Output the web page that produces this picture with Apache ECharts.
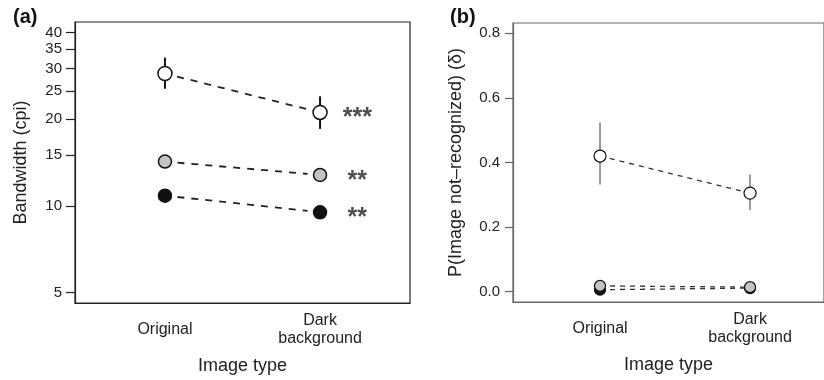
<!DOCTYPE html>
<html>
<head>
<meta charset="utf-8">
<script src="https://cdn.jsdelivr.net/npm/echarts@6/dist/echarts.min.js"></script>
<style>
  html, body { margin: 0; padding: 0; background: #fff; }
  #chart { width: 824px; height: 380px; }
</style>
</head>
<body>
<div id="chart"></div>
<script>
// categories on the x axis (drawn at x = 1 and x = 2)
const categories = ['Original', 'Dark\nbackground'];

// (a) bandwidth in cpi, log scale
const bwWhite = [28.8, 21.1];
const bwWhiteLo = [25.5, 18.5];
const bwWhiteHi = [32.7, 24.0];
const bwGray = [14.25, 12.8];
const bwBlack = [10.85, 9.5];
const bwTicks = [5, 10, 15, 20, 25, 30, 35, 40];
const bwSig = ['***', '**', '**'];

// (b) P(image not-recognized)
const pWhite = [0.42, 0.305];
const pWhiteLo = [0.332, 0.253];
const pWhiteHi = [0.523, 0.363];
const pGray = [0.018, 0.014];
const pBlack = [0.006, 0.011];
const pTicks = [0, 0.2, 0.4, 0.6, 0.8];

const FONT = '"Liberation Sans", Arial, sans-serif';
const lg = (v) => Math.log10(v);

// R-style limits: xlim c(0.5, 2.5) + 4%; panel (b) is cut at the right edge
const X_MIN = 0.42, X_MAX = 2.58, X_MAX_B = 2.493;
const STAR_X = 2.24;

function xAxisOf(gridIndex, color, max) {
  return {
    type: 'value', gridIndex, min: X_MIN, max,
    name: 'Image type', nameLocation: 'middle', nameGap: 63,
    nameTextStyle: { fontFamily: FONT, fontSize: 18, color: '#222', verticalAlign: 'middle' },
    axisLine: { show: true, onZero: false, lineStyle: { color, width: 1.2 } },
    axisTick: { show: false },
    splitLine: { show: false },
    axisLabel: {
      customValues: [1, 2],
      formatter: (v) => categories[Math.round(v) - 1],
      fontFamily: FONT, fontSize: 16, lineHeight: 18, color: '#222',
      verticalAlign: 'middle', margin: 27
    }
  };
}

// dashed connecting line, shortened at both ends like R type="b"
function segSeries(xi, yi, data, gap, style) {
  return {
    type: 'custom', xAxisIndex: xi, yAxisIndex: yi, z: 1, silent: true,
    data,
    renderItem(params, api) {
      const p1 = api.coord([api.value(0), api.value(1)]);
      const p2 = api.coord([api.value(2), api.value(3)]);
      const dx = p2[0] - p1[0], dy = p2[1] - p1[1];
      const len = Math.hypot(dx, dy);
      const ux = dx / len, uy = dy / len;
      return {
        type: 'line',
        shape: { x1: p1[0] + ux * gap, y1: p1[1] + uy * gap, x2: p2[0] - ux * gap, y2: p2[1] - uy * gap },
        style: Object.assign({ fill: null }, style)
      };
    }
  };
}

function errSeries(xi, yi, data, color, width) {
  return {
    type: 'custom', xAxisIndex: xi, yAxisIndex: yi, z: 2, silent: true,
    data,
    renderItem(params, api) {
      const a = api.coord([api.value(0), api.value(1)]);
      const b = api.coord([api.value(0), api.value(2)]);
      return {
        type: 'line',
        shape: { x1: a[0], y1: a[1], x2: b[0], y2: b[1] },
        style: { stroke: color, lineWidth: width }
      };
    }
  };
}

function dots(xi, yi, vals, fill, size, bw) {
  return {
    type: 'scatter', xAxisIndex: xi, yAxisIndex: yi, z: 3, silent: true,
    symbol: 'circle', symbolSize: size,
    itemStyle: { color: fill, borderColor: '#111', borderWidth: bw, opacity: 1 },
    data: vals.map((v, i) => [i + 1, v])
  };
}

const dashA = { stroke: '#222', lineWidth: 1.8, lineDash: [7, 7] };
const dashB = { stroke: '#333', lineWidth: 1.3, lineDash: [5, 5] };

const chart = echarts.init(document.getElementById('chart'));
chart.setOption({
  animation: false,
  backgroundColor: '#fff',
  title: [
    { text: '(a)', left: 8, top: 2, textStyle: { fontFamily: FONT, fontSize: 20, fontWeight: 'bold', color: '#111' } },
    { text: '(b)', left: 445, top: 2, textStyle: { fontFamily: FONT, fontSize: 20, fontWeight: 'bold', color: '#111' } }
  ],
  grid: [
    { left: 75, top: 22, width: 335, height: 281, show: true, borderColor: '#222', borderWidth: 1.2, backgroundColor: 'transparent' },
    { left: 513, top: 23, right: 0, height: 279, show: true, borderColor: '#666', borderWidth: 1.2, backgroundColor: 'transparent' }
  ],
  xAxis: [xAxisOf(0, '#222', X_MAX), xAxisOf(1, '#666', X_MAX_B)],
  yAxis: [
    {
      type: 'value', gridIndex: 0,
      // log10 ylim c(5, 40) + 4%
      min: lg(5) - 0.04 * lg(8), max: lg(40) + 0.04 * lg(8),
      name: 'Bandwidth (cpi)', nameLocation: 'middle', nameGap: 54,
      nameTextStyle: { fontFamily: FONT, fontSize: 18, color: '#222', verticalAlign: 'middle' },
      axisLine: { show: true, lineStyle: { color: '#222', width: 1.2 } },
      axisTick: { show: true, length: 9, customValues: bwTicks.map(lg), lineStyle: { color: '#222', width: 1.2 } },
      splitLine: { show: false },
      axisLabel: {
        customValues: bwTicks.map(lg),
        formatter: (v) => String(Math.round(Math.pow(10, v))),
        fontFamily: FONT, fontSize: 15, color: '#222', margin: 13
      }
    },
    {
      type: 'value', gridIndex: 1, min: -0.032, max: 0.832,
      name: 'P(Image not\u2013recognized) (\u03b4)', nameLocation: 'middle', nameGap: 57,
      nameTextStyle: { fontFamily: FONT, fontSize: 18, color: '#222', verticalAlign: 'middle' },
      axisLine: { show: true, lineStyle: { color: '#666', width: 1.2 } },
      axisTick: { show: true, length: 8, customValues: pTicks, lineStyle: { color: '#666', width: 1.2 } },
      splitLine: { show: false },
      axisLabel: {
        customValues: pTicks,
        formatter: (v) => v.toFixed(1),
        fontFamily: FONT, fontSize: 15, color: '#222', margin: 13
      }
    }
  ],
  series: [
    // (a)
    segSeries(0, 0, [
      [1, lg(bwWhite[0]), 2, lg(bwWhite[1])],
      [1, lg(bwGray[0]), 2, lg(bwGray[1])],
      [1, lg(bwBlack[0]), 2, lg(bwBlack[1])]
    ], 12.5, dashA),
    errSeries(0, 0, bwWhite.map((v, i) => [i + 1, lg(bwWhiteLo[i]), lg(bwWhiteHi[i])]), '#111', 2),
    dots(0, 0, bwBlack.map(lg), '#111', 13, 1.5),
    dots(0, 0, bwGray.map(lg), '#c4c4c4', 13, 1.5),
    dots(0, 0, bwWhite.map(lg), '#fff', 14, 1.5),
    {
      type: 'scatter', xAxisIndex: 0, yAxisIndex: 0, z: 4, silent: true,
      symbolSize: 0,
      data: [bwWhite[1], bwGray[1], bwBlack[1]].map((v) => [STAR_X, lg(v)]),
      label: {
        show: true, position: 'inside',
        formatter: (p) => bwSig[p.dataIndex],
        fontFamily: FONT, fontSize: 25, fontWeight: 'bold', color: '#222', offset: [0, 6]
      }
    },
    // (b)
    segSeries(1, 1, [
      [1, pBlack[0], 2, pBlack[1]],
      [1, pGray[0], 2, pGray[1]],
      [1, pWhite[0], 2, pWhite[1]]
    ], 0, dashB),
    errSeries(1, 1, pWhite.map((v, i) => [i + 1, pWhiteLo[i], pWhiteHi[i]]), '#808080', 1.6),
    dots(1, 1, pBlack, '#111', 11, 1.2),
    dots(1, 1, pGray, '#c4c4c4', 11, 1.2),
    dots(1, 1, pWhite, '#fff', 12, 1.2)
  ]
});
</script>
</body>
</html>
